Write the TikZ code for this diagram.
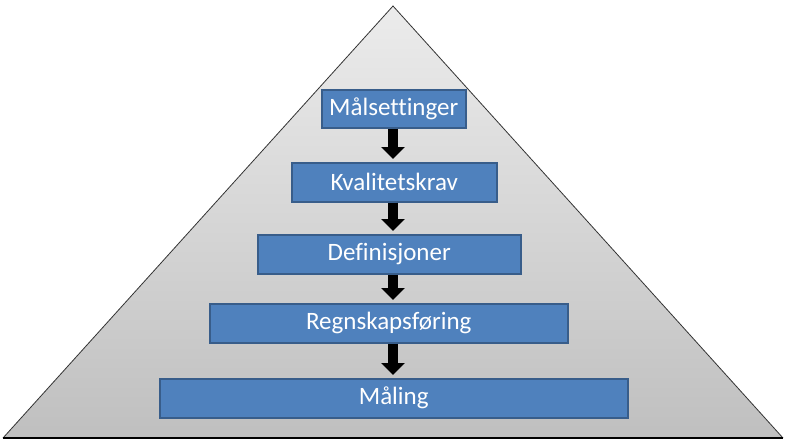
\documentclass[tikz,border=0pt]{standalone}
\usepackage{fontspec}
\setmainfont[Ligatures=NoCommon]{Carlito}
\usetikzlibrary{arrows.meta}
\definecolor{boxfill}{HTML}{4F81BD}
\definecolor{boxedge}{HTML}{385D8A}
\tikzset{
  levelbox/.style={draw=boxedge, line width=1.5pt, fill=boxfill,
    inner sep=0pt, anchor=north west},
  leveltext/.style={text=white, font=\fontsize{25}{28}\selectfont},
  flowarrow/.style={draw=black, line width=10pt, shorten >=3pt,
    -{Triangle[width=23pt,length=12pt]}}
}
\begin{document}
\begin{tikzpicture}[x=1pt,y=-1pt]
\useasboundingbox (0,0) rectangle (794,447);
% pyramid
\shade[top color=gray!15, bottom color=gray!50] (393,6) -- (783,438) -- (3,438) -- cycle;
\draw[draw=black!80, line width=0.8pt] (3,438) -- (393,6) -- (783,438);
\draw[draw=black, line width=1.3pt] (3,438) -- (783,438);
% boxes
\node[levelbox, minimum width=144pt, minimum height=38pt] (b1) at (321,89) {};
\node[leveltext] (t1) at (b1.center) {Målsettinger};
\node[levelbox, minimum width=205pt, minimum height=39pt] (b2) at (291,162) {};
\node[leveltext] (t2) at (b2.center) {Kvalitetskrav};
\node[levelbox, minimum width=263pt, minimum height=39pt] (b3) at (257,234) {};
\node[leveltext] (t3) at (b3.center) {Definisjoner};
\node[levelbox, minimum width=358pt, minimum height=39pt] (b4) at (209,303) {};
\node[leveltext] (t4) at (b4.center) {Regnskapsføring};
\node[levelbox, minimum width=468pt, minimum height=39pt] (b5) at (159,378) {};
\node[leveltext] (t5) at (b5.center) {Måling};
% arrows
\draw[flowarrow] (b1.south -| 393,0) -- (b2.north -| 393,0);
\draw[flowarrow] (b2.south -| 393,0) -- (b3.north -| 393,0);
\draw[flowarrow] (b3.south -| 393,0) -- (b4.north -| 393,0);
\draw[flowarrow] (b4.south -| 393,0) -- (b5.north -| 393,0);
\end{tikzpicture}
\end{document}
